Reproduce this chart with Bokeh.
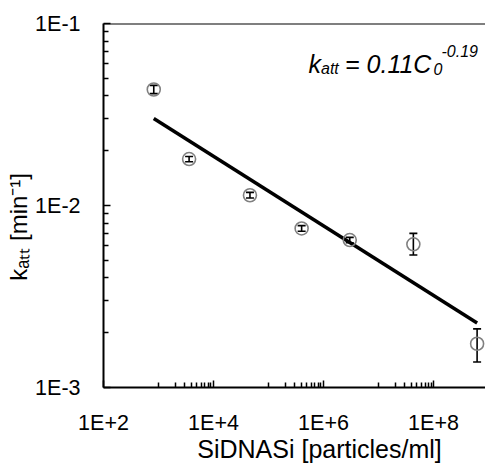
from bokeh.plotting import figure
from bokeh.models import (FixedTicker, Range1d, ColumnDataSource, Whisker, TeeHead,
                          Label, Span)
from bokeh.embed import file_html
from bokeh.resources import INLINE

# ---- data ----
conc = [8.2e2, 3.6e3, 4.6e4, 4.0e5, 3.0e6, 4.3e7, 6.2e8]          # particles/ml
katt = [0.0434, 0.0180, 0.01138, 0.00748, 0.00646, 0.00612, 0.00174]  # 1/min
katt_lo = [0.0412, 0.0174, 0.0110, 0.00722, 0.00624, 0.00535, 0.00138]
katt_hi = [0.0457, 0.0186, 0.0118, 0.00775, 0.00668, 0.00703, 0.00210]

fit_x = [8.2e2, 6.2e8]
fit_y = [0.0301, 0.00226]

x_ticks = [1e2, 1e4, 1e6, 1e8]
x_tick_labels = ["1E+2", "1E+4", "1E+6", "1E+8"]
x_minor = [k * 10.0 ** e for e in (3, 5, 7) for k in range(1, 10)]
y_ticks = [1e-3, 1e-2, 1e-1]
y_tick_labels = ["1E-3", "1E-2", "1E-1"]
y_minor = [k * 10.0 ** e for e in (-3, -2) for k in range(2, 10)]

# leading / trailing wide spaces only shift the centred titles
x_title = "\u2003\u2003SiDNASi [particles/ml]"
y_title = "k\u2090\u209c\u209c [min\u207b\u00b9]\u2003\u2002\u00a0"

FONT = "Liberation Sans"

p = figure(width=485, height=465, x_axis_type="log", y_axis_type="log",
           x_range=Range1d(1e2, 10 ** 8.945), y_range=Range1d(1e-3, 1e-1),
           output_backend="svg", toolbar_location=None,
           min_border_left=103, min_border_right=0, min_border_top=23,
           min_border_bottom=76)
p.outline_line_color = None
p.xgrid.visible = False
p.ygrid.visible = False
p.background_fill_color = "white"
p.border_fill_color = "white"

p.xaxis.ticker = FixedTicker(ticks=x_ticks, minor_ticks=x_minor)
p.yaxis.ticker = FixedTicker(ticks=y_ticks, minor_ticks=y_minor)
p.xaxis.major_label_overrides = {t: l for t, l in zip(x_ticks, x_tick_labels)}
p.yaxis.major_label_overrides = {t: l for t, l in zip(y_ticks, y_tick_labels)}

for ax in (p.xaxis, p.yaxis):
    ax.axis_line_width = 2
    ax.axis_line_color = "black"
    ax.major_tick_in = 7
    ax.major_tick_out = 0
    ax.minor_tick_in = 5
    ax.minor_tick_out = 0
    ax.major_tick_line_width = 1.5
    ax.minor_tick_line_width = 1.5
    ax.major_tick_line_color = "black"
    ax.minor_tick_line_color = "black"
    ax.major_label_text_font = FONT
    ax.major_label_text_font_size = "21.5px"
    ax.major_label_text_color = "black"
    ax.axis_label_text_font = FONT
    ax.axis_label_text_font_style = "normal"
    ax.axis_label_text_color = "black"
p.xaxis.axis_label = x_title
p.yaxis.axis_label = y_title
p.xaxis.axis_label_text_font_size = "25px"
p.yaxis.axis_label_text_font_size = "24px"
p.xaxis.major_label_standoff = 23
p.yaxis.major_label_standoff = 23
p.xaxis.axis_label_standoff = -3
p.yaxis.axis_label_standoff = 0

p.add_layout(Span(location=0.1, dimension="width", line_color="black", line_width=2))

# fit line
p.line(fit_x, fit_y, line_color="black", line_width=3.5)

# data points
src = ColumnDataSource(dict(x=conc, y=katt, lo=katt_lo, hi=katt_hi))
p.scatter("x", "y", source=src, size=13, marker="circle", fill_color=None,
          line_color="#808080", line_width=1.6)
p.add_layout(Whisker(source=src, base="x", lower="lo", upper="hi", dimension="height",
                     line_color="black", line_width=1.6,
                     lower_head=TeeHead(size=8, line_width=1.6, line_color="black"),
                     upper_head=TeeHead(size=8, line_width=1.6, line_color="black")))

def lab(text, sx, sy, size, italic=False):
    p.add_layout(Label(x=sx, y=sy, x_units="screen", y_units="screen", text=text,
                       text_font=FONT, text_font_size=f"{size}px",
                       text_font_style="italic" if italic else "normal",
                       text_color="black", text_align="left",
                       text_baseline="alphabetic"))

# equation
lab("k", 205, 324, 25, italic=True)
lab("att", 217.5, 319, 16, italic=True)
lab("= 0.11C", 241.5, 324, 25, italic=True)
lab("0", 330, 319, 16, italic=True)
lab("-0.19", 338, 337, 16, italic=True)

open("out.html", "w").write(file_html(p, INLINE))
